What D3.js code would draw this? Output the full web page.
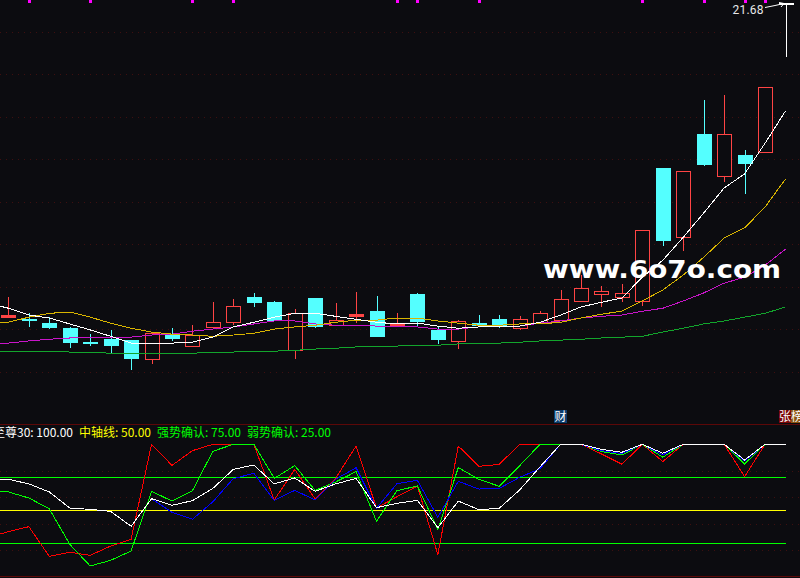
<!DOCTYPE html>
<html>
<head>
<meta charset="utf-8">
<script src="https://cdn.jsdelivr.net/npm/d3@7"></script>
<style>
  html, body { margin: 0; padding: 0; background: #0c0c10; overflow: hidden; }
  svg { display: block; }
</style>
</head>
<body>
<div id="chart"></div>
<script>
// price candles, one per day
const opens  = [14.29,14.24,14.15,14.03,13.70,13.77,13.75,13.30,13.89,13.61,14.06,14.17,14.76,14.64,13.51,14.74,14.10,14.31,14.43,14.10,14.83,13.99,13.73,14.15,14.24,14.03,14.15,14.22,14.67,14.83,14.76,14.67,17.80,16.17,18.60,17.61,18.10,18.17,21.68];
const highs  = [14.76,14.38,14.29,14.06,13.89,13.99,13.75,13.94,14.03,14.10,14.64,14.71,14.86,14.67,14.48,14.74,14.62,14.88,14.79,14.38,14.86,14.06,14.22,14.34,14.34,14.31,14.43,14.93,15.28,15.02,15.07,16.34,17.80,17.73,19.40,19.51,18.22,19.70,21.68];
const lows   = [14.29,14.06,14.01,13.56,13.61,13.44,13.04,13.19,13.73,13.61,14.06,14.10,14.53,14.20,13.30,14.03,14.10,14.15,13.84,14.06,14.06,13.66,13.54,14.06,14.03,13.99,14.15,14.22,14.64,14.53,14.64,14.55,15.96,15.84,17.84,17.47,17.19,18.17,20.41];
const closes = [14.34,14.24,14.06,13.70,13.70,13.63,13.33,13.91,13.80,13.87,14.17,14.55,14.64,14.22,14.38,14.08,14.22,14.36,13.84,14.15,14.20,13.77,14.20,14.10,14.10,14.24,14.38,14.71,14.97,14.90,14.86,16.34,16.10,17.73,17.89,18.60,17.91,19.70,21.68];

// moving averages, first value belongs to the day before the first candle
const ma5  = [14.62,14.50,14.34,14.27,14.13,13.99,13.84,13.68,13.66,13.68,13.70,13.82,14.06,14.17,14.29,14.38,14.38,14.31,14.24,14.17,14.13,14.15,14.08,14.03,14.06,14.06,14.08,14.17,14.34,14.53,14.64,14.74,15.23,15.63,16.17,16.74,17.33,17.66,18.38,19.14];
const ma10 = [14.13,14.17,14.29,14.38,14.41,14.29,14.15,14.03,13.94,13.89,13.87,13.84,13.87,13.91,14.01,14.06,14.10,14.17,14.22,14.22,14.27,14.27,14.20,14.15,14.10,14.10,14.13,14.13,14.17,14.27,14.36,14.43,14.67,14.93,15.28,15.70,16.15,16.39,16.88,17.54];
const ma20 = [13.63,13.68,13.73,13.77,13.80,13.80,13.82,13.82,13.87,13.89,13.96,14.01,14.06,14.13,14.20,14.20,14.13,14.10,14.10,14.08,14.06,14.06,14.01,14.01,14.06,14.08,14.08,14.15,14.20,14.27,14.31,14.34,14.43,14.50,14.67,14.86,15.09,15.23,15.51,15.89];
const ma60 = [13.49,13.49,13.49,13.49,13.47,13.47,13.44,13.44,13.44,13.44,13.44,13.47,13.47,13.49,13.49,13.51,13.54,13.56,13.59,13.59,13.61,13.63,13.63,13.66,13.68,13.68,13.70,13.73,13.75,13.77,13.80,13.82,13.84,13.94,14.03,14.13,14.20,14.29,14.38,14.53];

// signal marks along the top edge (candle index)
const topMarks = [1,4,9,11,19,20,23,31,34,36,37];
const priceGrid = [13,14,15,16,17,18,19,20,21];

// lower indicator, same offset as the averages
const redLine   = [29.5,33.8,37.6,15.1,18.2,15.9,22.9,28,100,84,95.2,100,100,100,57.8,81,58.6,74.2,98.7,51.7,60.3,68.4,16.4,98.7,83.3,84.8,100,100,100,100,92.7,84.9,100,86.9,100,100,100,75.5,100,100];
const greenLine = [63.9,63.9,59.3,51.2,24.2,7.8,12.1,19.2,64.4,57,64.9,94.7,100,100,74.2,83.8,65.1,71.4,79.3,41.6,64.9,68.4,35.6,82.3,73.5,68.2,83.8,100,100,100,94.5,91.9,100,90.2,100,100,100,85.1,100,100];
const blueLine  = [73.5,73.5,70,63.9,51.7,50.7,49.2,37.9,58.8,48.5,43.2,56.5,74,78,57.5,65.1,57.8,73.5,82.3,51.5,70.2,72.7,44.7,72,66.1,66.6,75,81.5,100,100,95.2,93,100,92,100,100,100,87.4,100,100];
const whiteLine = [73.5,73.5,70,63.9,51.7,50.7,49.2,37.9,58.8,53.8,57.3,66.6,81,84.3,70,74.5,64.4,70,74.2,52,55.3,57.5,36.8,57,50.5,51.5,65.4,83,100,100,96.2,94,100,93.2,100,100,100,88.1,100,100];
const indicatorGrid = [80,60,40,20];

const width = 800, height = 578;
const bg = "#0c0c10", red = "#ff4444", cyan = "#54ffff", dotted = "#3e1010", frame = "#5c0808";

const svg = d3.select("#chart").append("svg")
  .attr("width", width).attr("height", height)
  .style("background", bg);

// scales
const x = d3.scaleLinear().domain([0, 38]).range([8.4, 785.5]);
const yPrice = d3.scaleLinear().domain([13, 21.68]).range([372, 3]);
const yInd = d3.scaleLinear().domain([0, 100]).range([576.3, 444.3]);
const crisp = v => Math.round(v) + 0.5;

// grids
svg.append("g").attr("shape-rendering", "crispEdges").selectAll("line").data(priceGrid).enter().append("line")
  .attr("x1", 0).attr("x2", width)
  .attr("y1", d => crisp(yPrice(d))).attr("y2", d => crisp(yPrice(d)))
  .attr("stroke", dotted).attr("stroke-dasharray", "1,5");

svg.append("g").attr("shape-rendering", "crispEdges").selectAll("line").data(indicatorGrid).enter().append("line")
  .attr("x1", 0).attr("x2", width)
  .attr("y1", d => crisp(yInd(d))).attr("y2", d => crisp(yInd(d)))
  .attr("stroke", dotted).attr("stroke-dasharray", "1,5");

// panel frame
svg.append("g").selectAll("line").data([424, 576]).enter().append("line")
  .attr("x1", 0).attr("x2", width)
  .attr("y1", d => d + 0.5).attr("y2", d => d + 0.5)
  .attr("stroke", frame);

// top marks
svg.append("g").selectAll("rect").data(topMarks).enter().append("rect")
  .attr("x", d => Math.round(x(d)) - 1).attr("y", 0)
  .attr("width", 3).attr("height", 3)
  .attr("fill", "#ff00ff");

// candles
const candles = opens.map((o, i) => ({ i: i, o: o, h: highs[i], l: lows[i], c: closes[i] }));
const candleColor = d => d.i === 38 ? "#ffffff" : (d.c > d.o || d.i === 0 ? red : cyan);

const gCandle = svg.append("g").attr("shape-rendering", "crispEdges");
gCandle.selectAll(".wick").data(candles).enter().append("line")
  .attr("class", "wick")
  .attr("x1", d => crisp(x(d.i))).attr("x2", d => crisp(x(d.i)))
  .attr("y1", d => yPrice(d.h)).attr("y2", d => yPrice(d.l))
  .attr("stroke", candleColor);

gCandle.selectAll(".body").data(candles).enter().append("rect")
  .attr("class", "body")
  .attr("x", d => crisp(x(d.i)) - 7)
  .attr("y", d => Math.round(yPrice(Math.max(d.o, d.c))) + 0.5)
  .attr("width", 14)
  .attr("height", d => Math.max(0.5, Math.round(Math.abs(yPrice(d.o) - yPrice(d.c)))))
  .attr("fill", d => {
    if (d.i === 38) return "#ffffff";
    const thin = Math.abs(yPrice(d.o) - yPrice(d.c)) < 2.5;
    return candleColor(d) === cyan || thin ? candleColor(d) : bg;
  })
  .attr("stroke", candleColor);

// moving averages
const maLine = d3.line().x((d, i) => x(i - 1)).y(d => yPrice(d));
[[ma60, "#12a52c"], [ma20, "#c814c8"], [ma10, "#d8b400"], [ma5, "#ffffff"]].forEach(m => {
  svg.append("path").datum(m[0])
    .attr("d", maLine)
    .attr("fill", "none")
    .attr("stroke", m[1])
    .attr("stroke-width", 1)
    .attr("shape-rendering", "crispEdges");
});

// highest price note
svg.append("text").attr("x", 732.5).attr("y", 13.5)
  .attr("font-family", "Roboto, 'Liberation Sans'").attr("font-size", 12)
  .attr("letter-spacing", 0.2)
  .attr("fill", "#e8e8e8").text("21.68");
svg.append("path").attr("d", "M765,7.5L775,5.5L784,3.5M779,2.5L784,3.5L781,7")
  .attr("fill", "none").attr("stroke", "#ffffff");

// watermark
svg.append("text").attr("x", 543).attr("y", 278)
  .attr("font-family", "'DejaVu Sans'").attr("font-weight", "bold").attr("font-size", 25)
  .attr("textLength", 238).attr("lengthAdjust", "spacingAndGlyphs")
  .attr("fill", "#ffffff").text("www.6o7o.com");

// tags above the lower panel
const tags = [
  { t: "财", x0: 554, w: 13, bg: "#0c3c6c" },
  { t: "张", x0: 779, w: 12, bg: "#7a0606" },
  { t: "榜", x0: 791, w: 12, bg: "#8a5410" }
];
tags.forEach(t => {
  svg.append("rect").attr("x", t.x0).attr("y", 410).attr("width", t.w).attr("height", 13).attr("fill", t.bg);
  svg.append("text").attr("x", t.x0 + t.w / 2).attr("y", 421).attr("text-anchor", "middle")
    .attr("font-family", "'Noto Sans CJK SC'").attr("font-size", 12)
    .attr("fill", "#ffffff").text(t.t);
});

// level lines of the indicator
[[75, "#00ff00"], [50, "#ffff00"], [25, "#00ff00"]].forEach(l => {
  svg.append("line").attr("x1", 0).attr("x2", 786)
    .attr("y1", crisp(yInd(l[0]))).attr("y2", crisp(yInd(l[0])))
    .attr("stroke", l[1]);
});

// indicator lines
const indLine = d3.line().x((d, i) => x(i - 1)).y(d => yInd(d));
[[redLine, "#ff0000"], [greenLine, "#00ff00"], [blueLine, "#0000ff"], [whiteLine, "#ffffff"]].forEach(s => {
  svg.append("path").datum(s[0])
    .attr("d", indLine)
    .attr("fill", "none")
    .attr("stroke", s[1])
    .attr("stroke-width", 1)
    .attr("shape-rendering", "crispEdges");
});

// indicator legend
const legend = [
  { t: "至尊30: 100.00", end: 73, c: "#ffffff" },
  { t: "中轴线: 50.00", end: 151, c: "#ffff00" },
  { t: "强势确认: 75.00", end: 241, c: "#00ff00" },
  { t: "弱势确认: 25.00", end: 331, c: "#00ff00" }
];
svg.append("g").selectAll("text").data(legend).enter().append("text")
  .attr("x", d => d.end).attr("y", 437)
  .attr("text-anchor", "end")
  .attr("font-family", "'Noto Sans CJK SC'").attr("font-size", 12)
  .attr("fill", d => d.c)
  .text(d => d.t);
</script>
</body>
</html>
